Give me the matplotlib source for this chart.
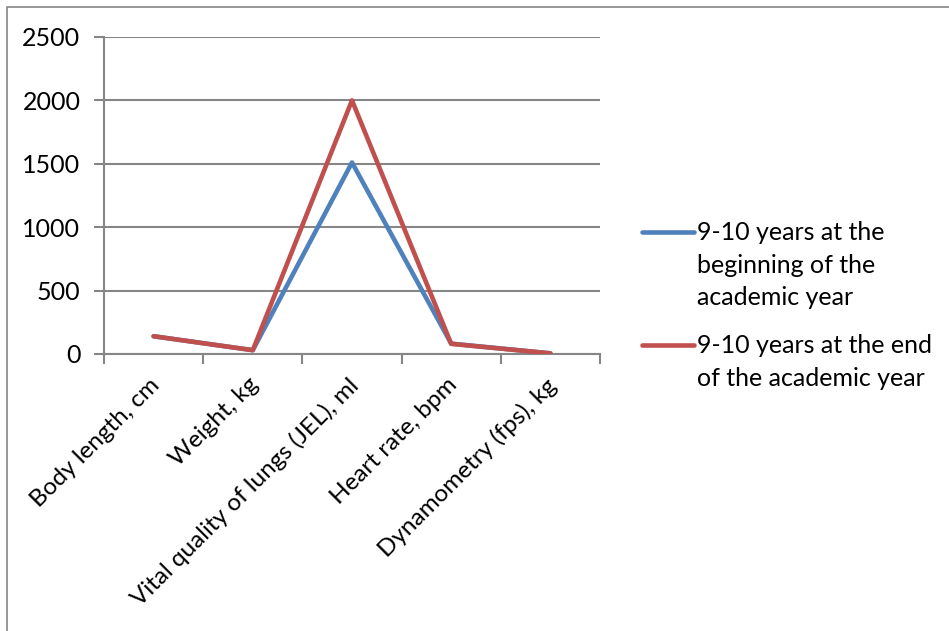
import matplotlib.pyplot as plt
from matplotlib.lines import Line2D
from matplotlib.patches import Rectangle
from matplotlib.transforms import ScaledTranslation

categories = ['Body length, cm', 'Weight, kg', 'Vital quality of lungs (JEL), ml',
              'Heart rate, bpm', 'Dynamometry (fps), kg']
start_year = [140, 30, 1510, 82, 5]
end_year = [140, 30, 2000, 80, 5]
series_names = ['9-10 years at the\nbeginning of the\nacademic year',
                '9-10 years at the end\nof the academic year']
yticks = [0, 500, 1000, 1500, 2000, 2500]

blue = '#4F81BD'
red = '#C0504D'
grey = '#868686'

plt.rcParams['font.family'] = ['Lato', 'DejaVu Sans']

fig = plt.figure(figsize=(9.49, 6.31), dpi=100)
ax = fig.add_axes([0.1096, 0.439, 0.5226, 0.5024])

x = list(range(len(categories)))
ax.plot(x, start_year, color=blue, lw=3.3, solid_joinstyle='round', solid_capstyle='round', zorder=3)
ax.plot(x, end_year, color=red, lw=3.3, solid_joinstyle='round', solid_capstyle='round', zorder=4)

ax.set_xlim(-0.5, len(categories) - 0.5)
ax.set_ylim(0, 2500)
ax.set_yticks(yticks)
ax.set_yticklabels([str(v) for v in yticks], fontsize=18)
ax.yaxis.grid(True, color=grey, lw=1.5)
ax.set_axisbelow(True)

ax.set_xticks(x)
ax.set_xticklabels(categories, rotation=45, ha='right', va='top',
                   rotation_mode='anchor', fontsize=17.5)
ax.set_xticks([i - 0.5 for i in range(len(categories) + 1)], minor=True)
ax.tick_params(axis='x', which='major', length=0, pad=8)
ax.tick_params(axis='x', which='minor', length=7, width=1.5, color=grey)
ax.tick_params(axis='y', length=7, width=1.5, color=grey, pad=10)

# small nudge for the slanted category names
shift = ScaledTranslation(-0.05, -0.09, fig.dpi_scale_trans)
for lbl in ax.get_xticklabels():
    lbl.set_transform(lbl.get_transform() + shift)

for side in ['top', 'right']:
    ax.spines[side].set_visible(False)
for side in ['left', 'bottom']:
    ax.spines[side].set_color(grey)
    ax.spines[side].set_linewidth(1.5)

# legend drawn by hand so the key sits on the first text line
legend_rows = [(0.632, series_names[0], blue), (0.453, series_names[1], red)]
for y, label, color in legend_rows:
    fig.add_artist(Line2D([0.676, 0.731], [y, y], color=color, lw=3.3,
                          solid_capstyle='round', transform=fig.transFigure))
    fig.text(0.734, y + 0.0174, label, fontsize=18, va='top', ha='left',
             linespacing=1.5, transform=fig.transFigure)

fig.add_artist(Rectangle((0.0075, -0.1), 1.1, 1.089, fill=False, ec=grey,
                         lw=1.2, transform=fig.transFigure))

fig.savefig('out.png', dpi=100)
